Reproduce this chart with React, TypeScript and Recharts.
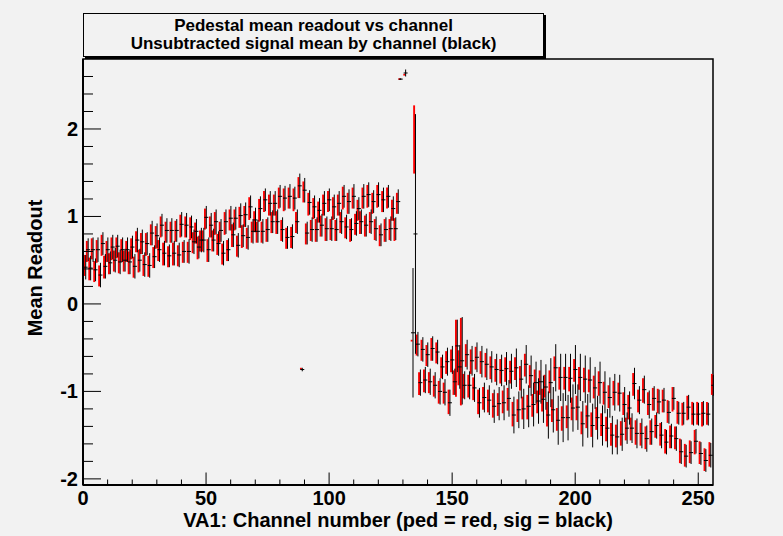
import { ComposedChart, ErrorBar, ReferenceArea, Scatter, XAxis, YAxis } from 'recharts';

// mean readout per channel, index = channel number (null = off scale)
const SIG: (number | null)[] = [
  0.42, 0.62, 0.41, 0.62, 0.39, 0.62, 0.33, 0.69, 0.43, 0.62, 0.47, 0.65, 0.5, 0.66, 0.48, 0.62,
  0.5, 0.62, 0.48, 0.65, 0.43, 0.73, 0.5, 0.71, 0.45, 0.69, 0.44, 0.81, 0.54, 0.78, 0.62, 0.9,
  0.58, 0.84, 0.55, 0.84, 0.58, 0.84, 0.56, 0.91, 0.6, 0.9, 0.6, 0.88, 0.71, 0.83, 0.65, 0.73,
  0.73, 0.99, 0.62, 0.9, 0.73, 0.94, 0.69, 0.84, 0.58, 0.94, 0.62, 0.98, 0.79, 0.98, 0.67, 1.01,
  0.78, 1.02, 0.76, 1.11, 0.83, 0.96, 0.83, 1.09, 0.83, 1.19, 0.85, 1.15, 0.94, 1.15, 0.94, 1.23,
  0.85, 1.21, 0.76, 1.23, 0.77, 1.21, 0.94, 1.35, -0.75, 1.3, 0.81, 1.16, 0.85, 1.11, 0.85, 1.07,
  0.9, 1.15, 0.86, 1.19, 0.86, 1.11, 0.85, 1.15, 0.94, 1.23, 0.88, 1.17, 0.85, 1.23, 0.92, 1.09,
  0.94, 1.23, 0.9, 1.25, 0.94, 1.17, 0.86, 1.25, 0.79, 1.19, 0.85, 1.23, 0.86, 1.09, 0.86, 1.17,
  2.57, null, 2.64, null, null, -0.33, 0.8, -0.46, -0.9, -0.52, -0.87, -0.58, -0.89, -0.51, -0.93, -0.55,
  -1.0, -0.72, -1.01, -0.66, -1.13, -0.64, -0.89, -0.48, -0.72, -0.65, -0.93, -0.58, -0.93, -0.65, -0.96, -0.61,
  -1.13, -0.66, -1.07, -0.69, -1.1, -0.72, -1.17, -0.75, -1.14, -0.76, -1.13, -0.74, -1.08, -0.77, -1.27, -0.73,
  -1.21, -0.86, -1.2, -0.69, -1.17, -0.82, -1.15, -0.9, -1.11, -0.89, -1.09, -0.95, -1.27, -0.9, -1.21, -0.73,
  -1.33, -0.84, -1.3, -0.84, -1.3, -0.85, -1.19, -0.75, -1.18, -0.84, -1.37, -0.86, -1.28, -0.87, -1.39, -0.96,
  -1.3, -0.9, -1.39, -1.01, -1.42, -1.07, -1.5, -1.01, -1.52, -1.02, -1.49, -1.15, -1.42, -1.19, -1.42, -0.91,
  -1.48, -1.1, -1.48, -0.98, -1.54, -1.15, -1.46, -1.08, -1.39, -1.12, -1.5, -1.1, -1.58, -1.24, -1.51, -1.08,
  -1.54, -1.25, -1.69, -1.25, -1.74, -1.18, -1.7, -1.26, -1.57, -1.26, -1.71, -1.25, -1.79, -1.26, -1.73, -0.93,
];

const PED: (number | null)[] = [
  0.44, 0.6, 0.4, 0.63, 0.37, 0.6, 0.32, 0.67, 0.42, 0.6, 0.46, 0.63, 0.49, 0.64, 0.47, 0.61,
  0.49, 0.6, 0.47, 0.63, 0.42, 0.71, 0.49, 0.69, 0.44, 0.68, 0.43, 0.79, 0.53, 0.76, 0.61, 0.88,
  0.57, 0.82, 0.54, 0.82, 0.57, 0.83, 0.55, 0.89, 0.59, 0.88, 0.59, 0.86, 0.7, 0.81, 0.64, 0.72,
  0.72, 0.97, 0.61, 0.88, 0.72, 0.92, 0.68, 0.82, 0.57, 0.92, 0.61, 0.96, 0.78, 0.96, 0.66, 0.99,
  0.77, 1.0, 0.75, 1.09, 0.82, 0.94, 0.82, 1.07, 0.82, 1.17, 0.84, 1.13, 0.93, 1.13, 0.93, 1.21,
  0.84, 1.19, 0.75, 1.21, 0.76, 1.19, 0.93, 1.33, -0.74, 1.28, 0.8, 1.14, 0.84, 1.09, 0.84, 1.05,
  0.89, 1.13, 0.85, 1.17, 0.85, 1.09, 0.84, 1.13, 0.93, 1.21, 0.87, 1.15, 0.84, 1.21, 0.91, 1.07,
  0.93, 1.21, 0.89, 1.23, 0.93, 1.15, 0.85, 1.23, 0.78, 1.17, 0.84, 1.21, 0.85, 1.07, 0.85, 1.15,
  2.57, null, 2.62, null, null, -0.42, 1.88, -0.47, -0.91, -0.53, -0.88, -0.59, -0.9, -0.52, -0.94, -0.56,
  -1.01, -0.73, -1.02, -0.67, -1.12, -0.65, -0.9, -0.62, -0.73, -0.66, -0.94, -0.59, -0.94, -0.66, -0.97, -0.62,
  -1.12, -0.67, -1.08, -0.7, -1.11, -0.73, -1.16, -0.76, -1.15, -0.77, -1.12, -0.75, -1.09, -0.78, -1.26, -0.74,
  -1.22, -0.85, -1.19, -0.7, -1.18, -0.83, -1.16, -0.89, -1.12, -0.9, -1.1, -0.94, -1.26, -0.89, -1.22, -0.74,
  -1.32, -0.85, -1.31, -0.85, -1.29, -0.86, -1.2, -0.76, -1.19, -0.85, -1.36, -0.87, -1.29, -0.88, -1.38, -0.95,
  -1.31, -0.91, -1.38, -1.02, -1.43, -1.06, -1.49, -1.02, -1.51, -1.03, -1.48, -1.14, -1.43, -1.18, -1.43, -0.92,
  -1.47, -1.11, -1.49, -0.99, -1.53, -1.14, -1.47, -1.09, -1.4, -1.11, -1.49, -1.11, -1.57, -1.23, -1.52, -1.09,
  -1.53, -1.24, -1.68, -1.26, -1.73, -1.19, -1.69, -1.25, -1.58, -1.25, -1.7, -1.26, -1.78, -1.25, -1.72, -0.92,
];

const PED_ERR: number[] = [
  0.12, 0.12, 0.13, 0.12, 0.12, 0.13, 0.12, 0.12, 0.13, 0.12, 0.12, 0.13, 0.12, 0.12, 0.12, 0.13,
  0.12, 0.12, 0.13, 0.12, 0.12, 0.12, 0.13, 0.12, 0.12, 0.13, 0.12, 0.12, 0.12, 0.13, 0.12, 0.12,
  0.13, 0.12, 0.12, 0.12, 0.13, 0.12, 0.12, 0.13, 0.12, 0.12, 0.12, 0.13, 0.12, 0.12, 0.13, 0.12,
  0.12, 0.12, 0.13, 0.12, 0.12, 0.13, 0.12, 0.12, 0.12, 0.13, 0.12, 0.12, 0.13, 0.12, 0.12, 0.12,
  0.13, 0.12, 0.12, 0.13, 0.12, 0.12, 0.12, 0.13, 0.12, 0.12, 0.13, 0.12, 0.12, 0.12, 0.13, 0.12,
  0.12, 0.13, 0.12, 0.12, 0.12, 0.13, 0.12, 0.12, 0.01, 0.12, 0.12, 0.13, 0.12, 0.12, 0.13, 0.12,
  0.12, 0.12, 0.13, 0.12, 0.12, 0.13, 0.12, 0.12, 0.12, 0.13, 0.12, 0.12, 0.13, 0.12, 0.12, 0.12,
  0.13, 0.12, 0.12, 0.13, 0.12, 0.12, 0.12, 0.13, 0.12, 0.12, 0.13, 0.12, 0.12, 0.12, 0.13, 0.12,
  0.01, 0, 0.01, 0, 0, 0.01, 0.39, 0.12, 0.13, 0.12, 0.13, 0.12, 0.12, 0.13, 0.12, 0.12,
  0.13, 0.12, 0.12, 0.13, 0.14, 0.13, 0.14, 0.44, 0.2, 0.5, 0.14, 0.13, 0.13, 0.14, 0.13, 0.13,
  0.14, 0.13, 0.13, 0.14, 0.13, 0.13, 0.14, 0.13, 0.13, 0.14, 0.13, 0.14, 0.13, 0.13, 0.14, 0.13,
  0.13, 0.14, 0.13, 0.13, 0.14, 0.13, 0.13, 0.14, 0.13, 0.14, 0.13, 0.13, 0.14, 0.13, 0.13, 0.14,
  0.13, 0.13, 0.14, 0.13, 0.13, 0.14, 0.13, 0.13, 0.14, 0.13, 0.13, 0.14, 0.13, 0.13, 0.14, 0.13,
  0.13, 0.14, 0.13, 0.13, 0.14, 0.13, 0.13, 0.14, 0.13, 0.13, 0.14, 0.13, 0.13, 0.14, 0.13, 0.13,
  0.14, 0.13, 0.13, 0.14, 0.13, 0.13, 0.14, 0.13, 0.13, 0.14, 0.13, 0.13, 0.14, 0.13, 0.13, 0.14,
  0.13, 0.13, 0.14, 0.13, 0.13, 0.14, 0.13, 0.13, 0.14, 0.13, 0.13, 0.14, 0.13, 0.13, 0.14, 0.12,
];

const SIG_ERR: number[] = [
  0.14, 0.13, 0.14, 0.14, 0.13, 0.14, 0.14, 0.13, 0.14, 0.14, 0.13, 0.14, 0.14, 0.13, 0.14, 0.14,
  0.13, 0.14, 0.14, 0.13, 0.14, 0.14, 0.13, 0.14, 0.14, 0.13, 0.14, 0.14, 0.13, 0.14, 0.14, 0.13,
  0.14, 0.14, 0.13, 0.14, 0.14, 0.13, 0.14, 0.14, 0.13, 0.14, 0.14, 0.13, 0.14, 0.14, 0.13, 0.14,
  0.14, 0.13, 0.14, 0.14, 0.13, 0.14, 0.14, 0.13, 0.14, 0.14, 0.13, 0.14, 0.14, 0.13, 0.14, 0.14,
  0.13, 0.14, 0.14, 0.13, 0.14, 0.14, 0.13, 0.14, 0.14, 0.13, 0.14, 0.14, 0.13, 0.14, 0.14, 0.13,
  0.14, 0.14, 0.13, 0.14, 0.14, 0.13, 0.14, 0.14, 0.02, 0.14, 0.13, 0.14, 0.14, 0.13, 0.14, 0.14,
  0.13, 0.14, 0.14, 0.13, 0.14, 0.14, 0.13, 0.14, 0.14, 0.13, 0.14, 0.14, 0.13, 0.14, 0.14, 0.13,
  0.14, 0.14, 0.13, 0.14, 0.14, 0.13, 0.14, 0.14, 0.13, 0.14, 0.14, 0.13, 0.14, 0.14, 0.13, 0.14,
  0.01, 0, 0.04, 0, 0, 0.74, 1.37, 0.14, 0.15, 0.14, 0.15, 0.14, 0.15, 0.14, 0.15, 0.14,
  0.15, 0.14, 0.15, 0.16, 0.15, 0.16, 0.15, 0.3, 0.25, 0.5, 0.16, 0.17, 0.16, 0.17, 0.16, 0.17,
  0.17, 0.18, 0.17, 0.18, 0.17, 0.18, 0.19, 0.18, 0.19, 0.18, 0.2, 0.19, 0.21, 0.2, 0.21, 0.22,
  0.21, 0.22, 0.23, 0.22, 0.24, 0.23, 0.25, 0.24, 0.26, 0.25, 0.27, 0.26, 0.27, 0.28, 0.26, 0.27,
  0.28, 0.27, 0.28, 0.27, 0.26, 0.28, 0.27, 0.28, 0.26, 0.27, 0.26, 0.27, 0.25, 0.26, 0.25, 0.24,
  0.25, 0.24, 0.23, 0.24, 0.22, 0.23, 0.22, 0.21, 0.2, 0.21, 0.19, 0.2, 0.18, 0.19, 0.17, 0.18,
  0.17, 0.16, 0.17, 0.16, 0.15, 0.16, 0.15, 0.14, 0.15, 0.14, 0.15, 0.14, 0.14, 0.13, 0.14, 0.13,
  0.14, 0.13, 0.14, 0.13, 0.13, 0.14, 0.13, 0.13, 0.14, 0.13, 0.13, 0.14, 0.13, 0.13, 0.14, 0.12,
];

const X_TICKS = [0, 10, 20, 30, 40, 50, 60, 70, 80, 90, 100, 110, 120, 130, 140, 150, 160, 170, 180, 190, 200, 210, 220, 230, 240, 250];
const X_LABELS = [0, 50, 100, 150, 200, 250];
const Y_TICKS = [-2, -1.8, -1.6, -1.4, -1.2, -1, -0.8, -0.6, -0.4, -0.2, 0, 0.2, 0.4, 0.6, 0.8, 1, 1.2, 1.4, 1.6, 1.8, 2, 2.2, 2.4, 2.6];
const Y_LABELS = [-2, -1, 0, 1, 2];

const TITLE_LINES = ['Pedestal mean readout vs channel', 'Unsubtracted signal mean by channel (black)'];
const X_TITLE = 'VA1: Channel number (ped = red, sig = black)';
const Y_TITLE = 'Mean Readout';

const X_DOMAIN = [0, 256];
const Y_DOMAIN = [-2.07, 2.8];

const BG = '#f2f2f2';
const FONT = '"Liberation Sans", Arial, Helvetica, sans-serif';

function toPoints(values: (number | null)[], errors: number[], shift: number) {
  const out: { x: number; y: number; err: number }[] = [];
  values.forEach((v, ch) => {
    if (v !== null) out.push({ x: ch + shift, y: v, err: errors[ch] });
  });
  return out;
}

const pedPoints = toPoints(PED, PED_ERR, 0.55);
const sigPoints = toPoints(SIG, SIG_ERR, 1.1);

function XTick({ x, y, payload }: any) {
  const major = X_LABELS.includes(payload.value);
  return (
    <g>
      <line x1={x} x2={x} y1={y} y2={y - (major ? 12.5 : 5.5)} stroke="#000" strokeWidth={1} />
      {major && (
        <text x={x} y={y + 20} textAnchor="middle" fontSize={20} fontWeight="bold" fontFamily={FONT} fill="#000">
          {payload.value}
        </text>
      )}
    </g>
  );
}

function YTick({ x, y, payload }: any) {
  const major = Y_LABELS.includes(payload.value);
  return (
    <g>
      <line x1={x} x2={x + (major ? 18 : 10)} y1={y} y2={y} stroke="#000" strokeWidth={1} />
      {major && (
        <text x={x - 5} y={y + 7} textAnchor="end" fontSize={20} fontWeight="bold" fontFamily={FONT} fill="#000">
          {payload.value}
        </text>
      )}
    </g>
  );
}

function XTitle({ viewBox }: any) {
  return (
    <text x={viewBox.x + viewBox.width / 2} y={viewBox.y + 42} textAnchor="middle" fontSize={20} fontWeight="bold" fontFamily={FONT} fill="#000">
      {X_TITLE}
    </text>
  );
}

function YTitle({ viewBox }: any) {
  const cx = viewBox.x + 42;
  const cy = viewBox.y + viewBox.height / 2 - 4;
  return (
    <text x={cx} y={cy} transform={`rotate(-90 ${cx} ${cy})`} textAnchor="middle" fontSize={20} fontWeight="bold" fontFamily={FONT} fill="#000">
      {Y_TITLE}
    </text>
  );
}

const noShape = () => <g />;
const sigShape = (p: any) => <line x1={p.cx - 2} x2={p.cx + 2} y1={p.cy} y2={p.cy} stroke="#000" strokeWidth={1} />;

export default function App() {
  return (
    <div style={{ position: 'absolute', left: 0, top: 0, width: 783, height: 536, background: BG, fontFamily: FONT }}>
      <ComposedChart width={783} height={536} margin={{ top: 59, right: 70, bottom: 0, left: 0 }}>
        <ReferenceArea x1={X_DOMAIN[0]} x2={X_DOMAIN[1]} y1={Y_DOMAIN[0]} y2={Y_DOMAIN[1]} fill="none" stroke="#000" strokeWidth={1.5} ifOverflow="visible" />
        <XAxis
          dataKey="x"
          type="number"
          domain={X_DOMAIN}
          ticks={X_TICKS}
          allowDataOverflow
          height={51}
          tickSize={0}
          tickMargin={0}
          tick={<XTick />}
          tickLine={false}
          axisLine={{ stroke: '#000', strokeWidth: 2 }}
          interval={0}
          label={<XTitle />}
        />
        <YAxis
          dataKey="y"
          type="number"
          domain={Y_DOMAIN}
          ticks={Y_TICKS}
          allowDataOverflow
          width={83}
          tickSize={0}
          tickMargin={0}
          tick={<YTick />}
          tickLine={false}
          axisLine={{ stroke: '#000', strokeWidth: 2 }}
          interval={0}
          label={<YTitle />}
        />
        <Scatter data={pedPoints} dataKey="y" shape={noShape} isAnimationActive={false} legendType="none">
          <ErrorBar dataKey="err" direction="y" width={0} stroke="#ff0000" strokeWidth={1.9} isAnimationActive={false} />
        </Scatter>
        <Scatter data={sigPoints} dataKey="y" shape={sigShape} isAnimationActive={false} legendType="none">
          <ErrorBar dataKey="err" direction="y" width={0} stroke="#000" strokeWidth={1} isAnimationActive={false} />
        </Scatter>
      </ComposedChart>
      <div
        style={{
          position: 'absolute',
          left: 83,
          top: 13,
          width: 459,
          height: 39,
          border: '1px solid #000',
          boxShadow: '2px 2px 0 #000',
          background: BG,
          textAlign: 'center',
          fontWeight: 'bold',
          fontSize: 17,
          lineHeight: '17.5px',
          paddingTop: 3,
          boxSizing: 'content-box',
        }}
      >
        {TITLE_LINES.map((t) => (
          <div key={t}>{t}</div>
        ))}
      </div>
    </div>
  );
}
